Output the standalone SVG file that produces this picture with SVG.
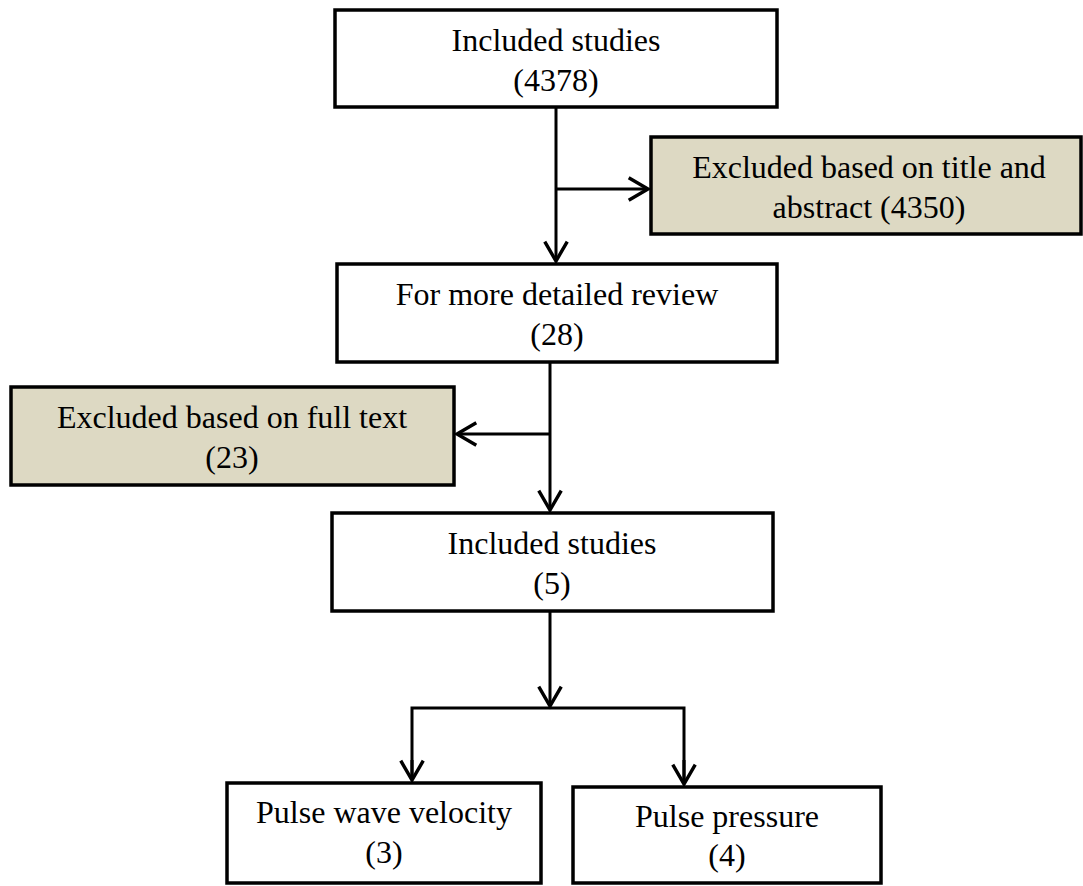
<svg xmlns="http://www.w3.org/2000/svg" width="1083" height="886" viewBox="0 0 1083 886">
<defs>
<style>
.box{fill:#ffffff;stroke:#000000;stroke-width:3.5}
.exc{fill:#DDD9C3;stroke:#000000;stroke-width:3.5}
.t{font-family:"Liberation Serif","Times New Roman",serif;font-size:32px;fill:#000000;text-anchor:middle}
.c{fill:none;stroke:#000000;stroke-width:3}
</style>
<marker id="arr" markerUnits="userSpaceOnUse" markerWidth="30" markerHeight="30" viewBox="-22 -14 26 28" refX="0" refY="0" orient="auto">
<path d="M-18,-10.5 L0,0 L-18,10.5" fill="none" stroke="#000000" stroke-width="3.2" stroke-linejoin="miter"/>
</marker>
</defs>
<rect width="1083" height="886" fill="#ffffff"/>
<g id="connectors">
<line class="c" x1="556" y1="107" x2="556" y2="261" marker-end="url(#arr)"/>
<line class="c" x1="556" y1="189" x2="648" y2="189" marker-end="url(#arr)"/>
<line class="c" x1="550" y1="362" x2="550" y2="510" marker-end="url(#arr)"/>
<line class="c" x1="550" y1="434" x2="457" y2="434" marker-end="url(#arr)"/>
<line class="c" x1="550" y1="611" x2="550" y2="706" marker-end="url(#arr)"/>
<polyline class="c" points="412,780 412,708 684,708 684,784"/>
<line class="c" x1="412" y1="760" x2="412" y2="780" marker-end="url(#arr)"/>
<line class="c" x1="684" y1="760" x2="684" y2="784" marker-end="url(#arr)"/>
</g>
<g id="n1">
<rect class="box" x="335" y="10" width="442" height="97"/>
<text class="t" x="556" y="51">Included studies</text>
<text class="t" x="556" y="91">(4378)</text>
</g>
<g id="n2">
<rect class="exc" x="651" y="137" width="430" height="97"/>
<text class="t" x="869" y="178">Excluded based on title and</text>
<text class="t" x="869" y="218">abstract (4350)</text>
</g>
<g id="n3">
<rect class="box" x="337" y="264" width="440" height="98"/>
<text class="t" x="557" y="305">For more detailed review</text>
<text class="t" x="557" y="345">(28)</text>
</g>
<g id="n4">
<rect class="exc" x="11" y="387" width="443" height="98"/>
<text class="t" x="232" y="428">Excluded based on full text</text>
<text class="t" x="232" y="468">(23)</text>
</g>
<g id="n5">
<rect class="box" x="332" y="513" width="441" height="98"/>
<text class="t" x="552" y="554">Included studies</text>
<text class="t" x="552" y="594">(5)</text>
</g>
<g id="n6">
<rect class="box" x="227" y="783" width="314" height="100"/>
<text class="t" x="384" y="823">Pulse wave velocity</text>
<text class="t" x="384" y="863">(3)</text>
</g>
<g id="n7">
<rect class="box" x="573" y="787" width="308" height="96"/>
<text class="t" x="727" y="827">Pulse pressure</text>
<text class="t" x="727" y="866">(4)</text>
</g>
</svg>
